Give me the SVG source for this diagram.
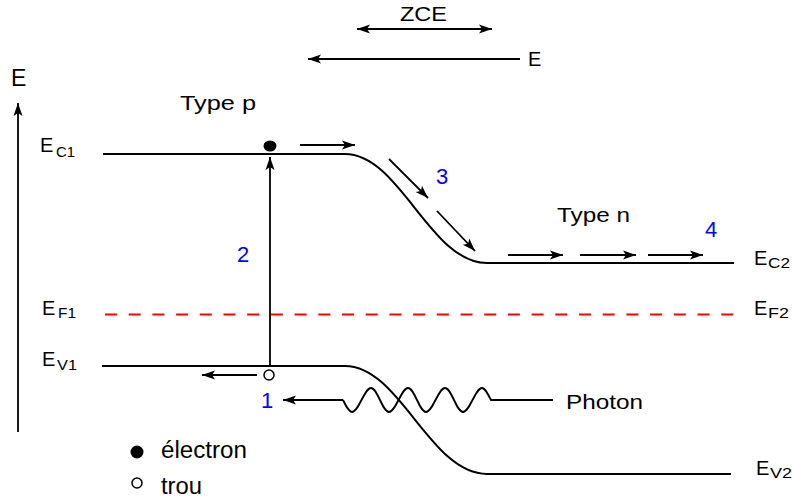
<svg xmlns="http://www.w3.org/2000/svg" width="792" height="501" viewBox="0 0 792 501">
<style>
text{font-family:"Liberation Sans",Arial,sans-serif;fill:#000}
.lbl{font-size:20px}
.sub{font-size:14px}
.num{font-size:22px;fill:#0000ff}
.band{fill:none;stroke:#000;stroke-width:2}
.arr{fill:none;stroke:#000;stroke-width:1.8;marker-end:url(#ah)}
.arr2{fill:none;stroke:#000;stroke-width:1.8;marker-end:url(#ah);marker-start:url(#ahs)}
</style>
<defs>
<marker id="ah" markerUnits="userSpaceOnUse" markerWidth="15" markerHeight="11" refX="13" refY="4.5" orient="auto" viewBox="0 0 15 9">
<path d="M0,0 L13,4.5 L0,9 L3,4.5 z" fill="#000"/>
</marker>
<marker id="ahs" markerUnits="userSpaceOnUse" markerWidth="15" markerHeight="11" refX="13" refY="4.5" orient="auto-start-reverse" viewBox="0 0 15 9">
<path d="M0,0 L13,4.5 L0,9 L3,4.5 z" fill="#000"/>
</marker>
</defs>
<rect width="792" height="501" fill="#fff"/>

<g id="axis">
<line x1="18" y1="432" x2="18" y2="103" class="arr"/>
<text x="11" y="86" font-size="23">E</text>
</g>

<g id="zce">
<text x="400" y="21" font-size="21" textLength="47" lengthAdjust="spacingAndGlyphs">ZCE</text>
</g>
<g id="field">
<text x="528" y="66" font-size="20">E</text>
</g>

<g id="typep"><text x="180" y="110" font-size="20" textLength="76" lengthAdjust="spacingAndGlyphs">Type p</text></g>
<g id="typen"><text x="557" y="222" font-size="20" textLength="73" lengthAdjust="spacingAndGlyphs">Type n</text></g>

<g id="EC">
<path class="band" d="M103,154 L345,154 C400,154 430,263 487,263 L734,263"/>
<text class="lbl" x="40" y="152">E</text>
<text class="sub" x="56" y="157" textLength="19" lengthAdjust="spacingAndGlyphs">C1</text>
<text class="lbl" x="754" y="265">E</text>
<text class="sub" x="768" y="268" textLength="22" lengthAdjust="spacingAndGlyphs">C2</text>
</g>

<g id="EF">
<line x1="105" y1="314.5" x2="737" y2="314.5" stroke="#ff0000" stroke-width="1.8" stroke-dasharray="12,11.7"/>
<text class="lbl" x="42" y="315">E</text>
<text class="sub" x="58" y="318" textLength="18" lengthAdjust="spacingAndGlyphs">F1</text>
<text class="lbl" x="754" y="315">E</text>
<text class="sub" x="768" y="318" textLength="21" lengthAdjust="spacingAndGlyphs">F2</text>
</g>

<g id="EV">
<path class="band" d="M102,366 L345,366 C400,366 430,474 487,474 L731,474"/>
<text class="lbl" x="42" y="366">E</text>
<text class="sub" x="57" y="370" textLength="20" lengthAdjust="spacingAndGlyphs">V1</text>
<text class="lbl" x="756" y="475">E</text>
<text class="sub" x="770" y="478" textLength="22" lengthAdjust="spacingAndGlyphs">V2</text>
</g>

<g id="electron"><ellipse cx="270" cy="146" rx="6.5" ry="5.5" fill="#000"/></g>
<g id="hole"><circle cx="269" cy="375" r="5" fill="#fff" stroke="#000" stroke-width="1.5"/></g>

<g id="photon">
<path fill="none" stroke="#000" stroke-width="1.8" d="M553,400 L491,400 C488,394 485,388 482,388 C475.3,388 469.7,412 463,412 C456.3,412 451.7,388 445,388 C438.3,388 432.7,412 426,412 C419.3,412 414.7,388 408,388 C401.3,388 395.7,412 389,412 C382.3,412 377.7,388 371,388 C364.3,388 358.7,412 352,412 C349,412 346,406 343,400"/>
<text x="566" y="409" font-size="21" textLength="77" lengthAdjust="spacingAndGlyphs">Photon</text>
</g>

<g id="connectors">
<line class="arr2" x1="357" y1="29" x2="492" y2="29"/>
<line class="arr" x1="520" y1="59" x2="308" y2="59"/>
<line class="arr" x1="270" y1="366" x2="270" y2="157"/>
<line class="arr" x1="300" y1="145" x2="355" y2="145"/>
<line class="arr" x1="389" y1="159" x2="428" y2="198"/>
<line class="arr" x1="437" y1="211" x2="475" y2="251"/>
<line class="arr" x1="508" y1="255" x2="563" y2="255"/>
<line class="arr" x1="580" y1="255" x2="636" y2="255"/>
<line class="arr" x1="648" y1="255" x2="703" y2="255"/>
<line class="arr" x1="257" y1="375" x2="202" y2="375"/>
<line class="arr" x1="343" y1="400" x2="283" y2="400"/>
</g>

<g id="numbers">
<text class="num" x="261" y="408">1</text>
<text class="num" x="237" y="262">2</text>
<text class="num" x="436" y="184">3</text>
<text class="num" x="705" y="237">4</text>
</g>

<g id="legend">
<ellipse cx="137" cy="452" rx="6.5" ry="6.5" fill="#000"/>
<text x="161" y="458" font-size="23" textLength="86" lengthAdjust="spacingAndGlyphs">électron</text>
<circle cx="137" cy="483" r="5" fill="#fff" stroke="#000" stroke-width="1.5"/>
<text x="161" y="494" font-size="23" textLength="41" lengthAdjust="spacingAndGlyphs">trou</text>
</g>
</svg>
